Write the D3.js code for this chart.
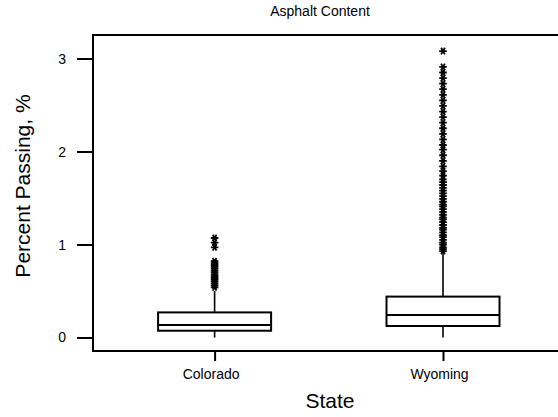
<!DOCTYPE html>
<html>
<head>
<meta charset="utf-8">
<script src="https://cdn.jsdelivr.net/npm/d3@7"></script>
<style>
  html, body { margin: 0; padding: 0; background: #fff; }
  svg { display: block; font-family: "Liberation Sans", Arial, sans-serif; }
</style>
</head>
<body>
<svg id="chart" width="558" height="417"></svg>
<script>
// Asphalt content box plots by state
const states = ["Colorado", "Wyoming"];
const whiskerLow = [0.0, 0.0];
const q1 = [0.073, 0.124];
const median = [0.134, 0.242];
const q3 = [0.27, 0.44];
const whiskerHigh = [0.50, 0.905];

const outliersColorado = [1.07, 1.02, 0.97, 0.82, 0.80, 0.78, 0.76, 0.74, 0.72, 0.70, 0.68,
  0.66, 0.64, 0.62, 0.60, 0.58, 0.56, 0.54];
const outliersWyoming = [3.08, 2.91, 2.85, 2.79, 2.73, 2.67, 2.61, 2.55, 2.49, 2.43, 2.37,
  2.31, 2.25, 2.19, 2.13, 2.07, 2.02, 1.96, 1.90, 1.84, 1.79, 1.74, 1.70, 1.67, 1.64, 1.61,
  1.58, 1.55, 1.52, 1.49, 1.46, 1.43, 1.41, 1.38, 1.35, 1.32, 1.29, 1.27, 1.24, 1.21, 1.18,
  1.16, 1.13, 1.10, 1.08, 1.05, 1.02, 1.00, 0.97, 0.95, 0.93];
const outliers = [outliersColorado, outliersWyoming];

const yTicks = [0, 1, 2, 3];

const svg = d3.select("#chart");
const plot = { left: 93, right: 565, top: 35, bottom: 351 };

const x = d3.scalePoint().domain(states).range([214.6, 443]);
const y = d3.scaleLinear().domain([-0.145, 3.253]).range([plot.bottom, plot.top]);
const boxW = 113;

// frame (top, left, bottom; right side runs past the view)
svg.append("path")
  .attr("d", `M${plot.right},${plot.top}H${plot.left}V${plot.bottom}H${plot.right}`)
  .attr("fill", "none").attr("stroke", "#000").attr("stroke-width", 2);

// y axis ticks
const yAxis = d3.axisLeft(y).tickValues(yTicks).tickFormat(d3.format("d"))
  .tickSize(16).tickPadding(11);
const gy = svg.append("g").attr("transform", `translate(${plot.left},0)`).call(yAxis);
gy.select(".domain").remove();
gy.selectAll(".tick line").attr("stroke-width", 2);
gy.selectAll(".tick text").attr("font-size", 14).attr("font-family", "Liberation Sans, Arial, sans-serif");

// x axis ticks
const xAxis = d3.axisBottom(x).tickSize(10).tickPadding(8);
const gx = svg.append("g").attr("transform", `translate(0,${plot.bottom})`).call(xAxis);
gx.select(".domain").remove();
gx.selectAll(".tick line").attr("stroke-width", 2);
gx.selectAll(".tick text").attr("font-size", 14).attr("dx", -4)
  .attr("font-family", "Liberation Sans, Arial, sans-serif");

// boxes
const g = svg.append("g");
states.forEach((s, i) => {
  const cx = x(s);
  // whiskers
  g.append("line").attr("x1", cx).attr("x2", cx)
    .attr("y1", y(whiskerLow[i])).attr("y2", y(q1[i]))
    .attr("stroke", "#000").attr("stroke-width", 1.6);
  g.append("line").attr("x1", cx).attr("x2", cx)
    .attr("y1", y(q3[i])).attr("y2", y(whiskerHigh[i]))
    .attr("stroke", "#000").attr("stroke-width", 1.6);
  // box
  g.append("rect").attr("x", cx - boxW / 2).attr("width", boxW)
    .attr("y", y(q3[i])).attr("height", y(q1[i]) - y(q3[i]))
    .attr("fill", "none").attr("stroke", "#000").attr("stroke-width", 2);
  // median
  g.append("line").attr("x1", cx - boxW / 2).attr("x2", cx + boxW / 2)
    .attr("y1", y(median[i])).attr("y2", y(median[i]))
    .attr("stroke", "#000").attr("stroke-width", 2);
  // outliers as asterisks
  const star = d3.symbol().type(d3.symbolAsterisk).size(40);
  g.selectAll(null).data(outliers[i]).join("path")
    .attr("transform", d => `translate(${cx},${y(d)}) rotate(90)`)
    .attr("d", star)
    .attr("fill", "none").attr("stroke", "#000").attr("stroke-width", 1.8);
});

// titles
svg.append("text").attr("x", 320).attr("y", 16).attr("text-anchor", "middle")
  .attr("font-size", 14).text("Asphalt Content");
svg.append("text").attr("x", 330).attr("y", 408).attr("text-anchor", "middle")
  .attr("font-size", 21).text("State");
svg.append("text").attr("transform", "translate(30,186) rotate(-90)")
  .attr("text-anchor", "middle").attr("font-size", 21).text("Percent Passing, %");
</script>
</body>
</html>
